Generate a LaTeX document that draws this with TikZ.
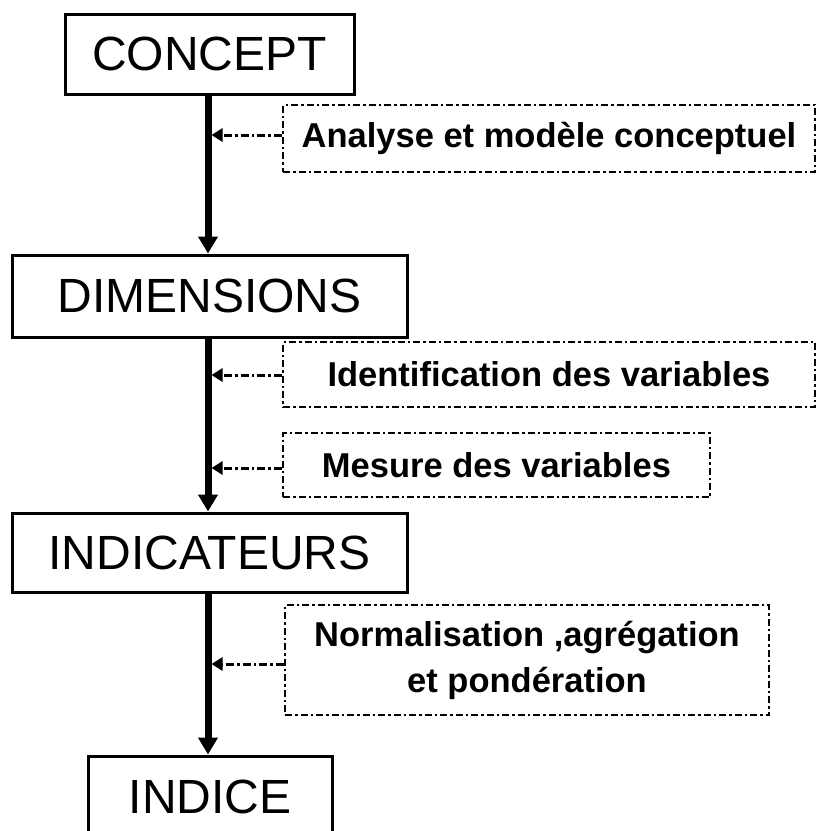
\documentclass[tikz,border=0pt]{standalone}
\usepackage{fontspec}
\setmainfont{Liberation Sans}
\usetikzlibrary{arrows.meta}
\tikzset{
  stagebox/.style={draw, line width=3pt, inner sep=0pt, font=\fontsize{48}{52}\selectfont},
  notebox/.style={draw, line width=2.7pt, dash pattern=on 7pt off 3pt on 2.5pt off 3pt, inner sep=0pt, align=center, font=\fontsize{34.5}{46}\selectfont\bfseries},
  mainflow/.style={line width=7pt, -{Triangle[length=17pt,width=19pt]}},
  noteflow/.style={line width=3pt, dash pattern=on 8pt off 3pt on 2.5pt off 3pt, -{Triangle[length=11pt,width=13pt]}, shorten >=3.5pt},
}
\begin{document}
\begin{tikzpicture}[x=1pt,y=-1pt]
\useasboundingbox (0,0) rectangle (821,831);
\clip (0,0) rectangle (821,831);
\node[stagebox, minimum width=289pt, minimum height=80pt] (concept) at (209.5,54) {CONCEPT};
\node[stagebox, minimum width=395pt, minimum height=82pt] (dims) at (209.5,296) {DIMENSIONS};
\node[stagebox, minimum width=395pt, minimum height=79pt] (indic) at (209.5,552.5) {INDICATEURS};
\node[stagebox, minimum width=244pt, minimum height=82pt] (indice) at (210,797) {INDICE};

\node[notebox, minimum width=532pt, minimum height=67pt] (n1) at (549,138.5) {Analyse et modèle conceptuel};
\node[notebox, minimum width=532pt, minimum height=65pt] (n2) at (549,374.5) {Identification des variables};
\node[notebox, minimum width=427pt, minimum height=64pt] (n3) at (496.5,465) {Mesure des variables};
\node[notebox, minimum width=484pt, minimum height=110pt] (n4) at (527,660) {Normalisation ,agrégation\\et pondération};

\draw[mainflow] (concept.south -| 208,0) -- (dims.north -| 208,0);
\draw[mainflow] (dims.south -| 208,0) -- (indic.north -| 208,0);
\draw[mainflow] (indic.south -| 208,0) -- (indice.north -| 208,0);

\coordinate (s1) at (208,135);
\coordinate (s2) at (208,375);
\coordinate (s3) at (208,468);
\coordinate (s4) at (208,664);
\draw[noteflow] (n1.west |- s1) -- (s1);
\draw[noteflow] (n2.west |- s2) -- (s2);
\draw[noteflow] (n3.west |- s3) -- (s3);
\draw[noteflow] (n4.west |- s4) -- (s4);
\end{tikzpicture}
\end{document}
